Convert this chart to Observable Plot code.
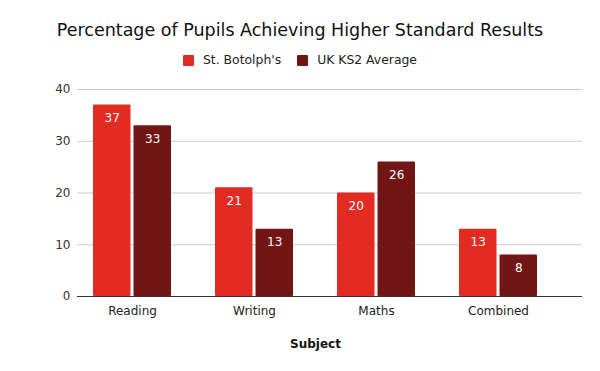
<!DOCTYPE html>
<html>
<head>
<meta charset="utf-8">
<script src="https://cdn.jsdelivr.net/npm/d3@7"></script>
<script src="https://cdn.jsdelivr.net/npm/@observablehq/plot@0.6"></script>
<style>
  html, body { margin: 0; padding: 0; background: #fff; width: 600px; height: 371px; overflow: hidden; }
  body { font-family: "DejaVu Sans", sans-serif; position: relative; }
  #title { position: absolute; top: 18px; left: 0; width: 600px; text-align: center; font-size: 17.5px; color: #111; line-height: 24px; }
  #legend { position: absolute; top: 52px; left: 0; width: 600px; display: flex; justify-content: center; gap: 0; font-size: 12.4px; color: #222; line-height: 16px; }
  .item { display: flex; align-items: center; margin: 0 8px; }
  .sw { width: 11px; height: 11px; margin-right: 9px; border-radius: 1px; }
  #chart { position: absolute; top: 75px; left: 0; }
</style>
</head>
<body>
<div id="title">Percentage of Pupils Achieving Higher Standard Results</div>
<div id="legend"></div>
<div id="chart"></div>
<script>
const subjects = ["Reading", "Writing", "Maths", "Combined"];
const seriesNames = ["St. Botolph's", "UK KS2 Average"];
const stBotolphs = [37, 21, 20, 13];
const ukAverage = [33, 13, 26, 8];
const yTicks = [0, 10, 20, 30, 40];
const colors = ["#e22b22", "#711614"];

const dataA = subjects.map((s, i) => ({subject: s, value: stBotolphs[i]}));
const dataB = subjects.map((s, i) => ({subject: s, value: ukAverage[i]}));

const legend = document.getElementById("legend");
seriesNames.forEach((n, i) => {
  const it = document.createElement("div");
  it.className = "item";
  it.innerHTML = `<span class="sw" style="background:${colors[i]}"></span><span>${n}</span>`;
  legend.appendChild(it);
});

const chart = Plot.plot({
  width: 600,
  height: 296,
  marginLeft: 77,
  marginRight: 18,
  marginTop: 14,
  marginBottom: 75,
  style: {fontFamily: "DejaVu Sans, sans-serif", fontSize: "12px", color: "#222"},
  x: {domain: subjects, range: [69.6, 560.4], paddingInner: 0.364, paddingOuter: 0.182},
  y: {domain: [0, 40]},
  marks: [
    Plot.ruleY(yTicks.filter(d => d > 0), {stroke: "#ccc", strokeWidth: 1}),
    Plot.barY(dataA, {x: "subject", y: "value", fill: colors[0], insetRight: 40.5, rx: 1}),
    Plot.barY(dataB, {x: "subject", y: "value", fill: colors[1], insetLeft: 40.5, rx: 1}),
    Plot.text(dataA, {x: "subject", y: "value", text: d => String(d.value), dx: -20.25, dy: 13, fill: "white", fontSize: 12}),
    Plot.text(dataB, {x: "subject", y: "value", text: d => String(d.value), dx: 20.25, dy: 13, fill: "white", fontSize: 12}),
    Plot.ruleY([0], {stroke: "#333", strokeWidth: 1}),
    Plot.axisY({ticks: yTicks, tickSize: 0, tickPadding: 7, label: null, fill: "#333"}),
    Plot.axisX({tickSize: 0, tickPadding: 10, label: null, fill: "#222"}),
    Plot.text(["Subject"], {frameAnchor: "bottom", dy: 51, dx: -14.5, fontWeight: "bold", fontSize: 12, fill: "#111"})
  ]
});
document.getElementById("chart").appendChild(chart);
</script>
</body>
</html>
